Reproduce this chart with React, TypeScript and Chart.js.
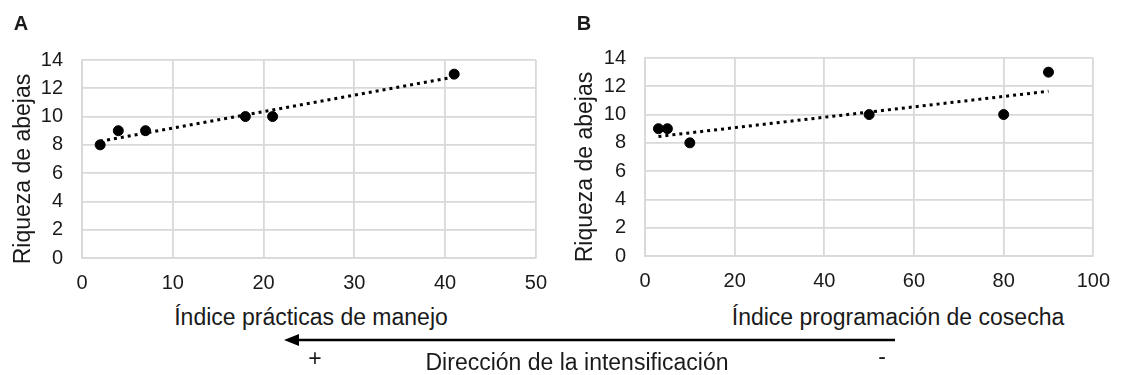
import React, { useEffect, useRef } from "react";
import { Chart, registerables } from "chart.js";

Chart.register(...registerables);

// ---- Data ----
const xA = [2, 4, 7, 18, 21, 41];
const yA = [8, 9, 9, 10, 10, 13];
const trendAx = [2, 41];
const trendAy = [8.25, 12.8];

const xB = [3, 5, 10, 50, 80, 90];
const yB = [9, 9, 8, 10, 10, 13];
const trendBx = [3, 90];
const trendBy = [8.45, 11.65];

const yTickMax = 14;
const yTickStep = 2;
const xMaxA = 50;
const xStepA = 10;
const xMaxB = 100;
const xStepB = 20;

const yAxisTitle = "Riqueza de abejas";
const xTitleA = "Índice prácticas de manejo";
const xTitleB = "Índice programación de cosecha";
const directionLabel = "Dirección de la intensificación";
const panelA = "A";
const panelB = "B";

const FONT = "'Liberation Sans', Arial, Helvetica, sans-serif";
const TEXT = "#1a1a1a";
const GRID = "#d9d9d9";

type PanelOpts = {
  xs: number[];
  ys: number[];
  tx: number[];
  ty: number[];
  xMax: number;
  xStep: number;
  yAxisWidth: number;
  xAxisHeight: number;
  padTop: number;
  padRight: number;
};

function makeConfig(o: PanelOpts): any {
  const pts = o.xs.map((x, i) => ({ x, y: o.ys[i] }));
  const trend = o.tx.map((x, i) => ({ x, y: o.ty[i] }));
  return {
    type: "scatter",
    data: {
      datasets: [
        {
          data: pts,
          backgroundColor: "#000",
          borderColor: "#000",
          pointRadius: 5,
          pointHoverRadius: 5,
          showLine: false,
        },
        {
          data: trend,
          showLine: true,
          borderColor: "#000",
          borderWidth: 3,
          borderDash: [3, 4],
          pointRadius: 0,
          fill: false,
        },
      ],
    },
    options: {
      animation: false,
      responsive: false,
      maintainAspectRatio: false,
      events: [],
      layout: {
        padding: { top: o.padTop, right: o.padRight, bottom: 0, left: 0 },
      },
      plugins: {
        legend: { display: false },
        tooltip: { enabled: false },
        title: { display: false },
      },
      scales: {
        x: {
          type: "linear",
          min: 0,
          max: o.xMax,
          grid: { color: GRID, lineWidth: 1.8, drawTicks: false },
          border: { display: true, color: GRID, width: 1.8 },
          ticks: {
            stepSize: o.xStep,
            padding: 13,
            color: TEXT,
            font: { family: FONT, size: 20 },
            maxRotation: 0,
          },
          afterFit: (s: any) => {
            s.height = o.xAxisHeight;
          },
        },
        y: {
          type: "linear",
          min: 0,
          max: yTickMax,
          grid: { color: GRID, lineWidth: 1.8, drawTicks: false },
          border: { display: true, color: GRID, width: 1.8 },
          ticks: {
            stepSize: yTickStep,
            padding: 19,
            color: TEXT,
            font: { family: FONT, size: 20 },
          },
          afterFit: (s: any) => {
            s.width = o.yAxisWidth;
          },
        },
      },
    },
  };
}

function Panel(props: { opts: PanelOpts; left: number; width: number; height: number }) {
  const ref = useRef<HTMLCanvasElement | null>(null);
  useEffect(() => {
    if (!ref.current) return;
    const chart = new Chart(ref.current, makeConfig(props.opts));
    return () => chart.destroy();
  }, []);
  return (
    <canvas
      ref={ref}
      width={props.width}
      height={props.height}
      style={{
        position: "absolute",
        left: props.left,
        top: 0,
        width: props.width,
        height: props.height,
      }}
    />
  );
}

const textStyle = (
  cx: number,
  cy: number,
  size: number,
  bold = false,
  rotate = 0
): React.CSSProperties => ({
  position: "absolute",
  left: cx,
  top: cy,
  transform: `translate(-50%, -50%) rotate(${rotate}deg)`,
  fontFamily: FONT,
  fontSize: size,
  fontWeight: bold ? "bold" : "normal",
  color: TEXT,
  whiteSpace: "nowrap",
  lineHeight: 1,
});

export default function App() {
  const optsA: PanelOpts = {
    xs: xA,
    ys: yA,
    tx: trendAx,
    ty: trendAy,
    xMax: xMaxA,
    xStep: xStepA,
    yAxisWidth: 82,
    xAxisHeight: 42,
    padTop: 60,
    padRight: 22,
  };
  const optsB: PanelOpts = {
    xs: xB,
    ys: yB,
    tx: trendBx,
    ty: trendBy,
    xMax: xMaxB,
    xStep: xStepB,
    yAxisWidth: 85,
    xAxisHeight: 44,
    padTop: 58,
    padRight: 25,
  };
  return (
    <div
      style={{
        position: "absolute",
        left: 0,
        top: 0,
        width: 1123,
        height: 375,
        background: "#fff",
        overflow: "hidden",
      }}
    >
      <Panel opts={optsA} left={0} width={560} height={300} />
      <Panel opts={optsB} left={560} width={563} height={300} />
      <div style={textStyle(21, 23, 20, true)}>{panelA}</div>
      <div style={textStyle(584, 23, 20, true)}>{panelB}</div>
      <div style={textStyle(22, 169, 23, false, -90)}>{yAxisTitle}</div>
      <div style={textStyle(584, 167, 23, false, -90)}>{yAxisTitle}</div>
      <div style={textStyle(311, 317, 23)}>{xTitleA}</div>
      <div style={textStyle(898, 317, 23)}>{xTitleB}</div>
      <svg
        width={1123}
        height={375}
        style={{ position: "absolute", left: 0, top: 0, pointerEvents: "none" }}
      >
        <line x1={296} y1={340} x2={895} y2={340} stroke="#000" strokeWidth={2.5} />
        <polygon points="284,340 299,334 299,346" fill="#000" />
      </svg>
      <div style={textStyle(315, 358, 23)}>+</div>
      <div style={textStyle(882, 356, 23)}>-</div>
      <div style={textStyle(577, 362, 23)}>{directionLabel}</div>
    </div>
  );
}
